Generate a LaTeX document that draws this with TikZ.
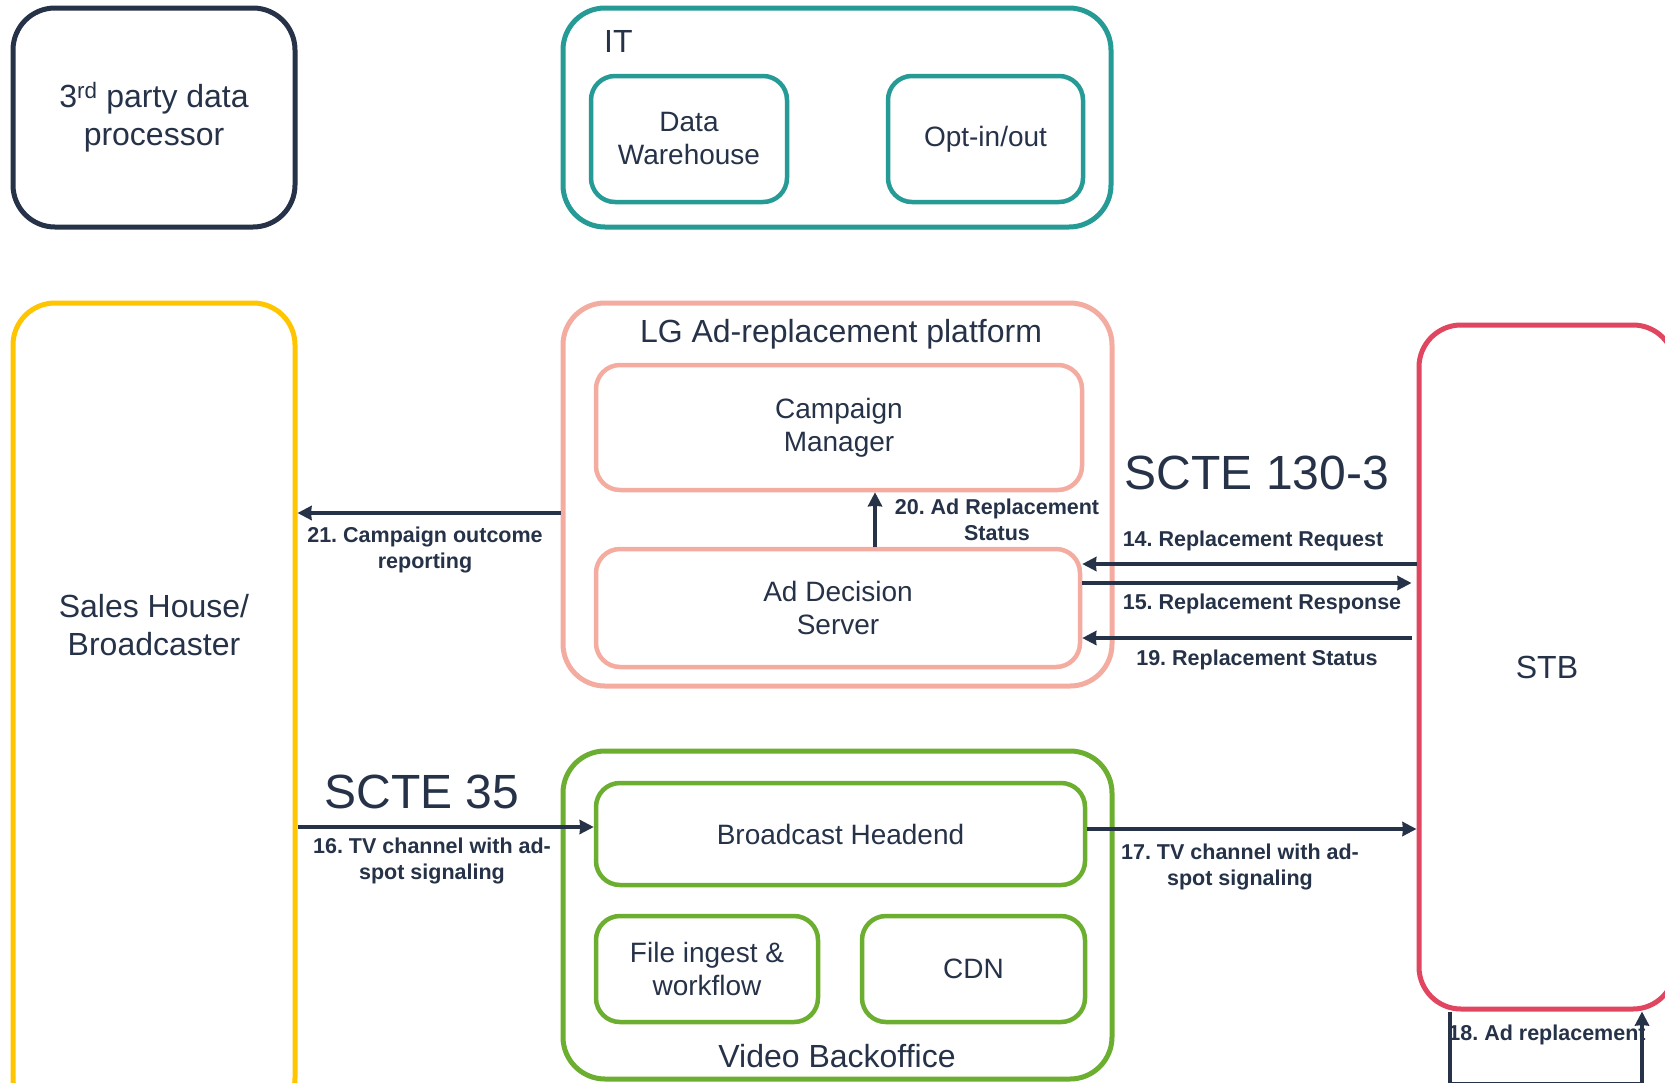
\documentclass[tikz,border=0pt]{standalone}
\usepackage{fontspec}
\setmainfont{Liberation Sans}
\usepackage{tikz}
\usetikzlibrary{arrows.meta, positioning, calc}
\definecolor{mynavy}{RGB}{38,50,72}
\definecolor{myteal}{RGB}{38,155,150}
\definecolor{myyellow}{RGB}{255,198,0}
\definecolor{mysalmon}{RGB}{245,172,160}
\definecolor{myred}{RGB}{224,70,96}
\definecolor{mygreen}{RGB}{108,174,48}
\frenchspacing
\tikzset{
  group/.style={rectangle, rounded corners=42pt, line width=5pt,
    inner sep=0pt, align=center, text=mynavy,
    font=\fontsize{32}{38}\selectfont},
  box/.style={rectangle, rounded corners=24pt, line width=4.5pt,
    inner sep=0pt, align=center, text=mynavy,
    font=\fontsize{28}{33}\selectfont},
  title/.style={inner sep=0pt, text=mynavy, align=center,
    font=\fontsize{32}{38}\selectfont},
  bigtitle/.style={inner sep=0pt, text=mynavy,
    font=\fontsize{48}{56}\selectfont},
  lbl/.style={inner sep=0pt, text=mynavy, align=center,
    font=\bfseries\fontsize{21.5}{26.5}\selectfont},
  arrow/.style={-{Stealth[length=14pt, width=14pt, inset=0.5pt]},
    line width=3.4pt, color=mynavy},
  line/.style={line width=3.4pt, color=mynavy}
}
\begin{document}
\begin{tikzpicture}[x=1pt, y=-1pt]
  \useasboundingbox (0,0) rectangle (1665,1082);
  \fill[white] (0,0) rectangle (1665,1082);
  \clip (0,0) rectangle (1665,1082);

  % outer groups
  \node[group, draw=mynavy, minimum width=282pt, minimum height=219pt]
    (third) at (154,117.5) {3\textsuperscript{rd} party data\\processor};
  \node[group, draw=myteal, minimum width=548pt, minimum height=219pt]
    (it) at (837,117.5) {};
  \node[group, draw=myyellow, minimum width=282pt, minimum height=817pt]
    (sales) at (154,711.5) {};
  \node[group, draw=mysalmon, minimum width=549pt, minimum height=383pt]
    (lg) at (837.5,494.5) {};
  \node[group, draw=mygreen, minimum width=549pt, minimum height=328pt]
    (video) at (837.5,915) {};
  \node[group, draw=myred, minimum width=256pt, minimum height=684pt]
    (stb) at (1547,667) {STB};

  \node[title, anchor=west] (ittitle) at (604,41) {IT};
  \node[title] (salestxt) at (154,625) {Sales House/\\Broadcaster};
  \node[title] (lgtitle) at (841,334) {LG Ad-replacement platform};
  \node[title] (videotitle) at (837,1056) {Video Backoffice};

  % inner boxes
  \node[box, draw=myteal, minimum width=196pt, minimum height=126pt]
    (dw) at (689,139) {Data\\Warehouse};
  \node[box, draw=myteal, minimum width=195pt, minimum height=126pt]
    (opt) at (985.5,139) {Opt-in/out};
  \node[box, draw=mysalmon, minimum width=486pt, minimum height=125pt]
    (cm) at (839,427.5) {Campaign\\Manager};
  \node[box, draw=mysalmon, minimum width=484pt, minimum height=118pt]
    (ads) at (838,608) {Ad Decision\\Server};
  \node[box, draw=mygreen, minimum width=489pt, minimum height=102pt]
    (head) at (840.5,834) {Broadcast Headend};
  \node[box, draw=mygreen, minimum width=222pt, minimum height=106pt]
    (ingest) at (707,969) {File ingest \&\\workflow};
  \node[box, draw=mygreen, minimum width=223pt, minimum height=106pt]
    (cdn) at (973.5,969) {CDN};

  \node[bigtitle] (scte130) at (1257,473) {SCTE 130-3};
  \node[bigtitle] (scte35) at (422,792) {SCTE 35};

  % flows
  \draw[arrow] (lg.west |- 0,513) -- (sales.east |- 0,513);
  \node[lbl] (l21) at (425,550) {21. Campaign outcome\\reporting};

  \draw[arrow] (ads.north -| 875,0) -- (cm.south -| 875,0);
  \node[lbl] (l20) at (997,520) {20. Ad Replacement\\Status};

  \draw[arrow] (stb.west |- 0,564) -- (ads.east |- 0,564);
  \node[lbl] (l14) at (1253,541) {14. Replacement Request};
  \draw[arrow, shorten >=5pt] (ads.east |- 0,583) -- (stb.west |- 0,583);
  \node[lbl] (l15) at (1262,604) {15. Replacement Response};
  \draw[arrow, shorten <=5pt] (stb.west |- 0,638) -- (ads.east |- 0,638);
  \node[lbl] (l19) at (1257,660) {19. Replacement Status};

  \draw[arrow] (sales.east |- 0,827) -- (head.west |- 0,827);
  \node[lbl] (l16) at (432,861) {16. TV channel with ad-\\spot signaling};
  \draw[arrow] (head.east |- 0,829) -- (stb.west |- 0,829);
  \node[lbl] (l17) at (1240,867) {17. TV channel with ad-\\spot signaling};

  \coordinate (loopl) at (1450,1084);
  \coordinate (loopr) at (1642,1084);
  \draw[arrow] (stb.south -| loopl) -- (loopl) -- (loopr) -- (stb.south -| loopr);
  \node[lbl] (l18) at (1547,1035) {18. Ad replacement};
\end{tikzpicture}
\end{document}
